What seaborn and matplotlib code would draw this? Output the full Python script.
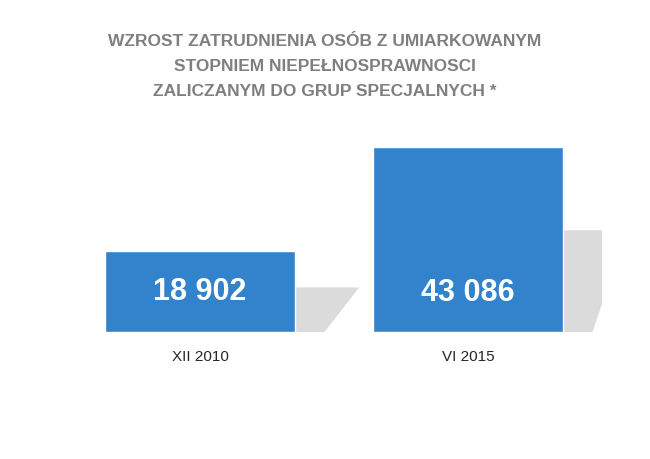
import numpy as np
import pandas as pd
import matplotlib
matplotlib.use("Agg")
import matplotlib.pyplot as plt
import seaborn as sns
from matplotlib.patches import Polygon

periods = ["XII 2010", "VI 2015"]
employed = [18902, 43086]
value_labels = ["18 902", "43 086"]
title_lines = ["WZROST ZATRUDNIENIA OSÓB Z UMIARKOWANYM",
               "STOPNIEM NIEPEŁNOSPRAWNOSCI",
               "ZALICZANYM DO GRUP SPECJALNYCH *"]

sns.set_theme(style="white")
plt.rcParams['font.family'] = ['Liberation Sans', 'DejaVu Sans']

df = pd.DataFrame({"period": periods, "value": employed})

fig = plt.figure(figsize=(6.5, 4.6), dpi=100)
ax = fig.add_axes([0.1015, 0.276, 0.8246, 0.463])

bar_w = 0.709
# soft shadows behind the bars, derived from bar geometry
for i, v in enumerate(employed):
    xr = i + bar_w / 2
    shadow = Polygon([(xr - 0.05, 0), (xr + 0.11, 0), (xr + 0.24, v * 0.55),
                      (xr - 0.05, v * 0.55)], closed=True,
                     facecolor="#9a9a9a", alpha=0.35, edgecolor="none", zorder=0)
    ax.add_patch(shadow)

sns.barplot(data=df, x="period", y="value", color="#3382cc", saturation=1,
            width=bar_w, ax=ax, zorder=2)

for i, (v, lab) in enumerate(zip(employed, value_labels)):
    ax.text(i, v / 2 if i == 0 else 43086 * 0.215, lab, ha="center", va="center",
            color="white", fontsize=22, fontweight="bold",
            family=['Liberation Sans Narrow', 'Liberation Sans'], zorder=3)

ax.set_xlim(-0.5, 1.5)
ax.set_ylim(0, 49607)
ax.set_xlabel("")
ax.set_ylabel("")
ax.set_yticks([])
ax.tick_params(axis="x", labelsize=10, pad=12, length=0)
for t in ax.get_xticklabels():
    t.set_family(['Liberation Sans Narrow', 'Liberation Sans'])
    t.set_fontsize(11)
sns.despine(ax=ax, left=True, bottom=True)

for k, line in enumerate(title_lines):
    fig.text(0.5, 1 - (42 + 25 * k) / 460, line, ha="center", va="center",
             fontsize=12.5, fontweight="bold", color="#7f7f7f")

fig.savefig("out.png", dpi=100)
